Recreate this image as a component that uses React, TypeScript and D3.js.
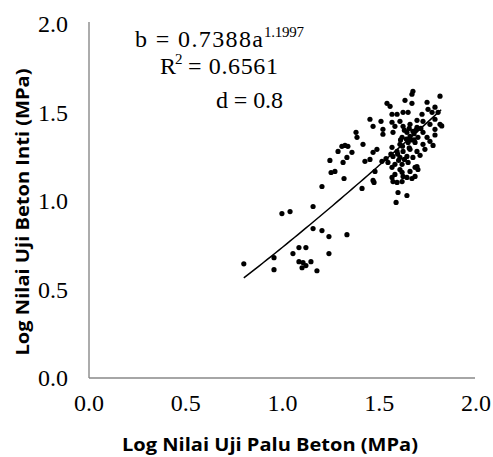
import React from 'react'
import * as d3 from 'd3'

// log hammer value (a) vs log core value (b)
const palu = [
  0.80, 0.956, 0.956, 0.997, 1.039, 1.054, 1.085, 1.121, 1.158, 1.158, 1.085, 1.106, 1.121, 1.147, 1.101, 1.178,
  1.204, 1.204, 1.24, 1.24, 1.333, 1.411,
  1.452, 1.468, 1.38, 1.385, 1.416, 1.307, 1.323, 1.338, 1.287, 1.359, 1.333, 1.313, 1.245, 1.468, 1.426, 1.452,
  1.271, 1.251, 1.318, 1.468,
  1.674, 1.669, 1.633, 1.669, 1.814, 1.747, 1.54, 1.556, 1.788, 1.804, 1.752, 1.773, 1.721, 1.566, 1.592, 1.623,
  1.649, 1.509, 1.607, 1.695, 1.726, 1.814, 1.788, 1.519, 1.566, 1.581, 1.623, 1.659, 1.695, 1.762, 1.788, 1.519,
  1.571, 1.643, 1.674, 1.726, 1.618, 1.659, 1.70, 1.747, 1.607, 1.649, 1.685, 1.726, 1.762, 1.778, 1.488, 1.566,
  1.592, 1.623, 1.659, 1.695, 1.736, 1.571, 1.607, 1.643, 1.674, 1.711, 1.514, 1.545, 1.581, 1.618, 1.649, 1.695,
  1.566, 1.607, 1.659, 1.70, 1.478, 1.581, 1.623, 1.685, 1.566, 1.618, 1.571, 1.592, 1.643, 1.669, 1.473, 1.597,
  1.643, 1.587, 1.618, 1.685, 1.823, 1.788,
  1.63, 1.655, 1.68, 1.61, 1.64, 1.665, 1.69, 1.62, 1.655, 1.595, 1.68, 1.63, 1.715, 1.60, 1.56, 1.535
]
const inti = [
  0.645, 0.68, 0.612, 0.929, 0.94, 0.703, 0.737, 0.737, 0.969, 0.844, 0.657, 0.652, 0.635, 0.657, 0.623, 0.606,
  0.833, 1.082, 0.799, 0.703, 0.81, 1.071,
  1.462, 1.422, 1.388, 1.36, 1.32, 1.309, 1.314, 1.309, 1.28, 1.275, 1.246, 1.218, 1.229, 1.275, 1.224, 1.235,
  1.167, 1.161, 1.127, 1.116,
  1.62, 1.603, 1.569, 1.552, 1.592, 1.558, 1.552, 1.535, 1.53, 1.501, 1.518, 1.501, 1.49, 1.49, 1.49, 1.501,
  1.501, 1.45, 1.45, 1.456, 1.45, 1.433, 1.462, 1.405, 1.445, 1.422, 1.422, 1.433, 1.416, 1.433, 1.405, 1.377,
  1.388, 1.388, 1.394, 1.388, 1.36, 1.365, 1.36, 1.36, 1.32, 1.331, 1.331, 1.32, 1.337, 1.314, 1.292, 1.303,
  1.28, 1.28, 1.292, 1.28, 1.292, 1.252, 1.246, 1.252, 1.246, 1.258, 1.224, 1.218, 1.207, 1.207, 1.218, 1.195,
  1.19, 1.178, 1.167, 1.178, 1.167, 1.15, 1.139, 1.139, 1.133, 1.11, 1.11, 1.105, 1.133, 1.127, 1.105, 1.048,
  1.031, 0.992, 1.162, 1.19, 1.424, 1.373,
  1.40, 1.41, 1.38, 1.345, 1.35, 1.345, 1.40, 1.31, 1.30, 1.265, 1.345, 1.235, 1.41, 1.23, 1.265, 1.24
]
const ticks = [0, 0.5, 1.0, 1.5, 2.0]
// power trendline b = coef * a^expo
const coef = 0.7388
const expo = 1.1997
const trendRange = [0.8, 1.823]

const W = 493
const H = 457
const serif = '"Liberation Serif", serif'
const sans = '"Open Sans", sans-serif'
const axisColor = '#898989'

export default function App() {
  const x = d3.scaleLinear().domain([0, 2]).range([89, 476])
  const y = d3.scaleLinear().domain([0, 2]).range([378, 24])

  const trendPts = d3.range(trendRange[0], trendRange[1] + 0.0001, 0.02)
    .map(a => [a, coef * Math.pow(a, expo)] as [number, number])
  const line = d3.line<[number, number]>().x(d => x(d[0])).y(d => y(d[1]))

  return (
    <svg width={W} height={H} style={{ position: 'absolute', left: 0, top: 0, background: '#fff' }}>
      <rect width={W} height={H} fill="#fff" />
      <line x1={x(0)} x2={x(0)} y1={y(0)} y2={22} stroke={axisColor} strokeWidth={1.4} />
      <line x1={x(0)} x2={475} y1={y(0)} y2={y(0)} stroke={axisColor} strokeWidth={1.4} />

      {ticks.map(t => (
        <text key={'y' + t} x={68} y={y(t)} dy="0.34em" textAnchor="end"
          fontFamily={serif} fontSize={24} fill="#000">{t.toFixed(1)}</text>
      ))}
      {ticks.map(t => (
        <text key={'x' + t} x={x(t)} y={411} textAnchor="middle"
          fontFamily={serif} fontSize={24} fill="#000">{t.toFixed(1)}</text>
      ))}

      <g fill="#000">
        {palu.map((a, i) => (
          <circle key={i} cx={x(a)} cy={y(inti[i])} r={2.6} />
        ))}
      </g>
      <path d={line(trendPts) ?? ''} fill="none" stroke="#000" strokeWidth={1.5} />

      <g fontFamily={serif} fill="#000">
        <text x={135} y={47} fontSize={24} textLength={128} lengthAdjust="spacing">b = 0.7388a</text>
        <text x={264} y={37} fontSize={15} textLength={40} lengthAdjust="spacing">1.1997</text>
        <text x={160} y={74} fontSize={24}>R</text>
        <text x={175} y={64} fontSize={15}>2</text>
        <text x={188} y={74} fontSize={24} textLength={90} lengthAdjust="spacing">= 0.6561</text>
        <text x={216} y={108} fontSize={24} textLength={67} lengthAdjust="spacing">d = 0.8</text>
      </g>

      <text x={270} y={451} textAnchor="middle" fontFamily={sans} fontWeight="bold" fontSize={18}
        textLength={296} lengthAdjust="spacingAndGlyphs" fill="#000">Log Nilai Uji Palu Beton (MPa)</text>
      <text transform={`translate(29,212) rotate(-90)`} textAnchor="middle" fontFamily={sans} fontWeight="bold"
        fontSize={18} textLength={287} lengthAdjust="spacingAndGlyphs" fill="#000">Log Nilai Uji Beton Inti (MPa)</text>
    </svg>
  )
}
